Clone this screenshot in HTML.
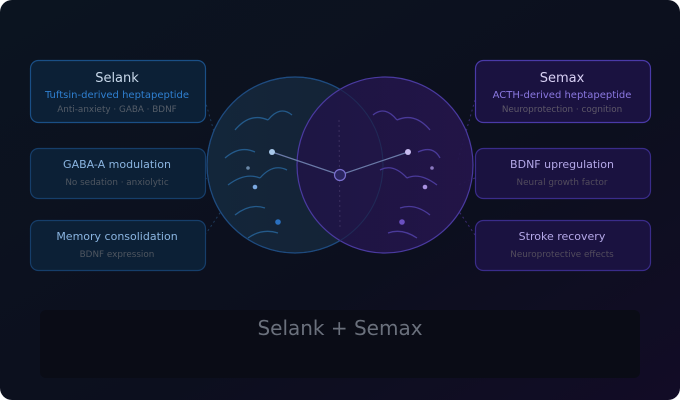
<!DOCTYPE html>
<html><head><meta charset="utf-8"><style>
html,body{margin:0;padding:0;background:#fff;width:680px;height:400px;overflow:hidden}
svg{display:block}
text{font-family:"DejaVu Sans","Liberation Sans",sans-serif}
</style></head><body>
<svg width="680" height="400" viewBox="0 0 680 400" xmlns="http://www.w3.org/2000/svg">
<defs>
<linearGradient id="bg" x1="0" y1="0" x2="1" y2="1">
<stop offset="0" stop-color="#0b1420"/><stop offset="0.6" stop-color="#0c0f1e"/><stop offset="1" stop-color="#120c26"/>
</linearGradient>
<linearGradient id="lc" x1="0" y1="0" x2="1" y2="0">
<stop offset="0" stop-color="#13263a"/><stop offset="1" stop-color="#152235"/>
</linearGradient>
<linearGradient id="rc" x1="0" y1="0" x2="1" y2="0">
<stop offset="0" stop-color="#1e1545"/><stop offset="1" stop-color="#24154a"/>
</linearGradient>
</defs>
<rect x="0" y="0" width="680" height="400" rx="12" fill="url(#bg)"/>
<g stroke-dasharray="2 3" stroke-width="1" fill="none">
<path d="M205 100 L222 160" stroke="#1e3a5a"/>
<path d="M205 178 L222 185" stroke="#1e3a5a"/>
<path d="M205 235 L222 210" stroke="#1e3a5a"/>
<path d="M475 100 L458 160" stroke="#3a2a70"/>
<path d="M475 178 L458 185" stroke="#3a2a70"/>
<path d="M475 235 L458 210" stroke="#3a2a70"/>
</g>
<ellipse cx="295" cy="165" rx="88" ry="88" fill="url(#lc)" stroke="#1f5a9a" stroke-width="1.2"/>
<ellipse cx="385" cy="165" rx="88" ry="88" fill="url(#rc)" fill-opacity="0.93" stroke="#4a3aa0" stroke-width="1.2"/>
<ellipse cx="295" cy="165" rx="88" ry="88" fill="none" stroke="#1f3a60" stroke-opacity="0.5"/>
<line x1="339" y1="120" x2="340" y2="230" stroke="#3a2f5f" stroke-dasharray="2 3"/>
<g fill="none" stroke="#245a8a" stroke-width="1.3">
<path d="M235 130 Q250 112 268 120"/>
<path d="M268 120 Q280 105 292 115"/>
<path d="M225 158 Q240 145 255 152"/>
<path d="M228 185 Q245 172 260 178"/>
<path d="M260 178 Q273 163 287 170"/>
<path d="M235 215 Q250 203 265 208"/>
<path d="M248 238 Q262 228 278 233"/>
</g>
<g fill="none" stroke="#4a3a9a" stroke-width="1.3">
<path d="M373 115 Q385 105 397 120"/>
<path d="M397 120 Q415 112 430 130"/>
<path d="M418 152 Q433 145 440 158"/>
<path d="M380 170 Q393 163 407 178"/>
<path d="M407 178 Q420 172 437 185"/>
<path d="M400 208 Q415 203 430 215"/>
<path d="M388 233 Q402 228 417 238"/>
</g>
<path d="M272 152 L340 175 L408 152" fill="none" stroke="#6a7aa8" stroke-width="1.2"/>
<circle cx="340" cy="175" r="5.5" fill="#2a2560" stroke="#7a70d0" stroke-width="1.2"/>
<circle cx="272" cy="152" r="3" fill="#a8c8ea"/>
<circle cx="248" cy="168" r="1.8" fill="#6a88a8"/>
<circle cx="255" cy="187" r="2.3" fill="#7aa8e0"/>
<circle cx="278" cy="222" r="2.8" fill="#2a70c0"/>
<circle cx="408" cy="152" r="3" fill="#c8bcf0"/>
<circle cx="432" cy="168" r="1.8" fill="#8a78c0"/>
<circle cx="425" cy="187" r="2.3" fill="#a890e0"/>
<circle cx="402" cy="222" r="2.8" fill="#6a50c0"/>
<g fill="#0c2036" stroke="#1a4f86" stroke-width="1.2">
<rect x="30.5" y="60.5" width="175" height="62" rx="8"/>
<rect x="30.5" y="148.5" width="175" height="50" rx="8" stroke="#163e6a"/>
<rect x="30.5" y="220.5" width="175" height="50" rx="8" stroke="#163e6a"/>
</g>
<g fill="#1a1240" stroke="#3a2c8a" stroke-width="1.2">
<rect x="475.5" y="60.5" width="175" height="62" rx="8" stroke="#4a3aa8"/>
<rect x="475.5" y="148.5" width="175" height="50" rx="8"/>
<rect x="475.5" y="220.5" width="175" height="50" rx="8"/>
</g>
<g text-anchor="middle">
<text x="117" y="82" font-size="13" fill="#c8d8ea">Selank</text>
<text x="117" y="98" font-size="10" fill="#2f7fd0">Tuftsin-derived heptapeptide</text>
<text x="117" y="112" font-size="8.8" fill="#555d68">Anti-anxiety · GABA · BDNF</text>
<text x="117" y="168" font-size="11" fill="#8ab4e0">GABA-A modulation</text>
<text x="117" y="185" font-size="8.8" fill="#4f5660">No sedation · anxiolytic</text>
<text x="117" y="240" font-size="11" fill="#8ab4e0">Memory consolidation</text>
<text x="117" y="257" font-size="8.8" fill="#4f5660">BDNF expression</text>
<text x="562" y="82" font-size="13" fill="#d8d0f4">Semax</text>
<text x="562" y="98" font-size="10" fill="#8a78e0">ACTH-derived heptapeptide</text>
<text x="562" y="112" font-size="8.8" fill="#5e5868">Neuroprotection · cognition</text>
<text x="562" y="168" font-size="11" fill="#b4a8e8">BDNF upregulation</text>
<text x="562" y="185" font-size="8.8" fill="#524c5c">Neural growth factor</text>
<text x="562" y="240" font-size="11" fill="#b4a8e8">Stroke recovery</text>
<text x="562" y="257" font-size="8.8" fill="#524c5c">Neuroprotective effects</text>
</g>
<rect x="40" y="310" width="600" height="68" rx="6" fill="#0a0c16"/>
<text x="340" y="335" text-anchor="middle" font-size="20" fill="#6a707c">Selank + Semax</text>
</svg>
</body></html>
